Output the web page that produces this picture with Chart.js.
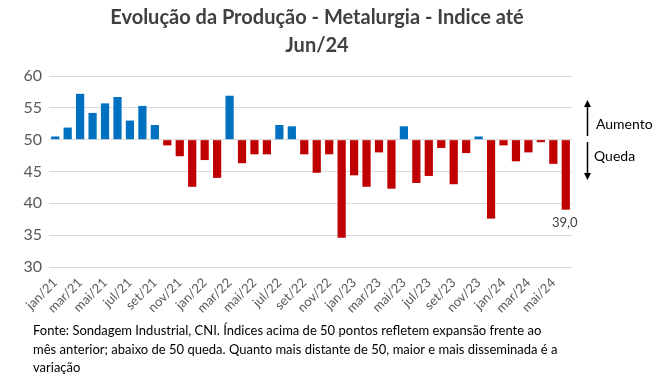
<!DOCTYPE html>
<html>
<head>
<meta charset="utf-8">
<script src="https://cdn.jsdelivr.net/npm/chart.js@4.4.1/dist/chart.umd.min.js"></script>
<style>
  html, body { margin: 0; padding: 0; background: #fff; }
  #wrap { width: 660px; height: 384px; }
</style>
</head>
<body>
<div id="wrap"><canvas id="chart" width="660" height="384"></canvas></div>
<script>
const months = [
  "jan/21", "fev/21", "mar/21", "abr/21", "mai/21", "jun/21", "jul/21", "ago/21", "set/21", "out/21", "nov/21", "dez/21",
  "jan/22", "fev/22", "mar/22", "abr/22", "mai/22", "jun/22", "jul/22", "ago/22", "set/22", "out/22", "nov/22", "dez/22",
  "jan/23", "fev/23", "mar/23", "abr/23", "mai/23", "jun/23", "jul/23", "ago/23", "set/23", "out/23", "nov/23", "dez/23",
  "jan/24", "fev/24", "mar/24", "abr/24", "mai/24", "jun/24"
];

const productionIndex = [
  50.5, 51.9, 57.2, 54.2, 55.7, 56.7, 53.0, 55.3, 52.3, 49.1, 47.4, 42.6,
  46.8, 44.0, 56.9, 46.3, 47.7, 47.7, 52.3, 52.1, 47.7, 44.8, 47.7, 34.6,
  44.4, 42.6, 48.0, 42.3, 52.1, 43.2, 44.3, 48.7, 43.0, 47.9, 50.5, 37.6,
  49.1, 46.6, 48.0, 49.6, 46.2, 39.0
];

const yTicks = [30, 35, 40, 45, 50, 55, 60];
const titleLines = ["Evolução da Produção - Metalurgia - Indice até", "Jun/24"];
const noteLines = [
  "Fonte: Sondagem Industrial, CNI. Índices acima de 50 pontos refletem expansão frente ao",
  "mês anterior; abaixo de 50 queda. Quanto mais distante de 50, maior e mais disseminada é a",
  "variação"
];

const FONT = "Lato, 'Liberation Sans', sans-serif";

const barColors = productionIndex.map(v => v >= 50 ? "#0070C0" : "#C00000");

const extras = {
  id: "extras",
  afterDraw(chart) {
    const ctx = chart.ctx;
    const x = chart.scales.x;
    const y = chart.scales.y;
    ctx.save();

    // title
    ctx.fillStyle = "#404040";
    ctx.font = "bold 20px " + FONT;
    ctx.textAlign = "center";
    ctx.textBaseline = "middle";
    titleLines.forEach((line, i) => ctx.fillText(line, 317, 18 + i * 28));

    // last value label
    const last = productionIndex.length - 1;
    ctx.fillStyle = "#404040";
    ctx.font = "13px " + FONT;
    ctx.fillText(productionIndex[last].toFixed(1).replace(".", ","),
      x.getPixelForValue(last) - 1, y.getPixelForValue(productionIndex[last]) + 13);

    // up / down arrows
    ctx.strokeStyle = "#000";
    ctx.fillStyle = "#000";
    ctx.lineWidth = 1.5;
    const ax = 587.5;
    ctx.beginPath();
    ctx.moveTo(ax, 136); ctx.lineTo(ax, 104);
    ctx.moveTo(ax, 142); ctx.lineTo(ax, 176);
    ctx.stroke();
    ctx.beginPath();
    ctx.moveTo(ax, 100); ctx.lineTo(ax - 3.5, 107); ctx.lineTo(ax + 3.5, 107); ctx.closePath();
    ctx.fill();
    ctx.beginPath();
    ctx.moveTo(ax, 180); ctx.lineTo(ax - 3.5, 173); ctx.lineTo(ax + 3.5, 173); ctx.closePath();
    ctx.fill();

    ctx.font = "14px " + FONT;
    ctx.textAlign = "left";
    ctx.fillText("Aumento", 596, 124);
    ctx.fillText("Queda", 594, 156);

    // footnote
    ctx.font = "13px " + FONT;
    ctx.fillStyle = "#000";
    noteLines.forEach((line, i) => ctx.fillText(line, 33, 331 + i * 18.5));

    ctx.restore();
  }
};

new Chart(document.getElementById("chart"), {
  type: "bar",
  data: {
    labels: months,
    datasets: [{
      data: productionIndex,
      base: 50,
      backgroundColor: barColors,
      borderWidth: 0,
      categoryPercentage: 1,
      barPercentage: 0.66
    }]
  },
  options: {
    responsive: false,
    animation: false,
    layout: { padding: { left: 0, right: 88, top: 76, bottom: 67 } },
    plugins: {
      legend: { display: false },
      tooltip: { enabled: false }
    },
    scales: {
      x: {
        grid: { display: false },
        border: { display: false },
        ticks: {
          autoSkip: false,
          maxRotation: 45,
          minRotation: 45,
          color: "#595959",
          font: { family: FONT, size: 13 },
          padding: 0,
          callback: (v, i) => i % 2 === 0 ? months[i] : ""
        },
        afterFit: s => { s.height = 50; }
      },
      y: {
        min: 30,
        max: 60,
        afterBuildTicks: s => { s.ticks = yTicks.map(v => ({ value: v })); },
        grid: { color: "#D9D9D9", lineWidth: 1, drawTicks: false },
        border: { display: false },
        ticks: {
          color: "#595959",
          font: { family: FONT, size: 16 },
          padding: 7
        },
        afterFit: s => { s.width = 49; }
      }
    }
  },
  plugins: [extras]
});
</script>
</body>
</html>
